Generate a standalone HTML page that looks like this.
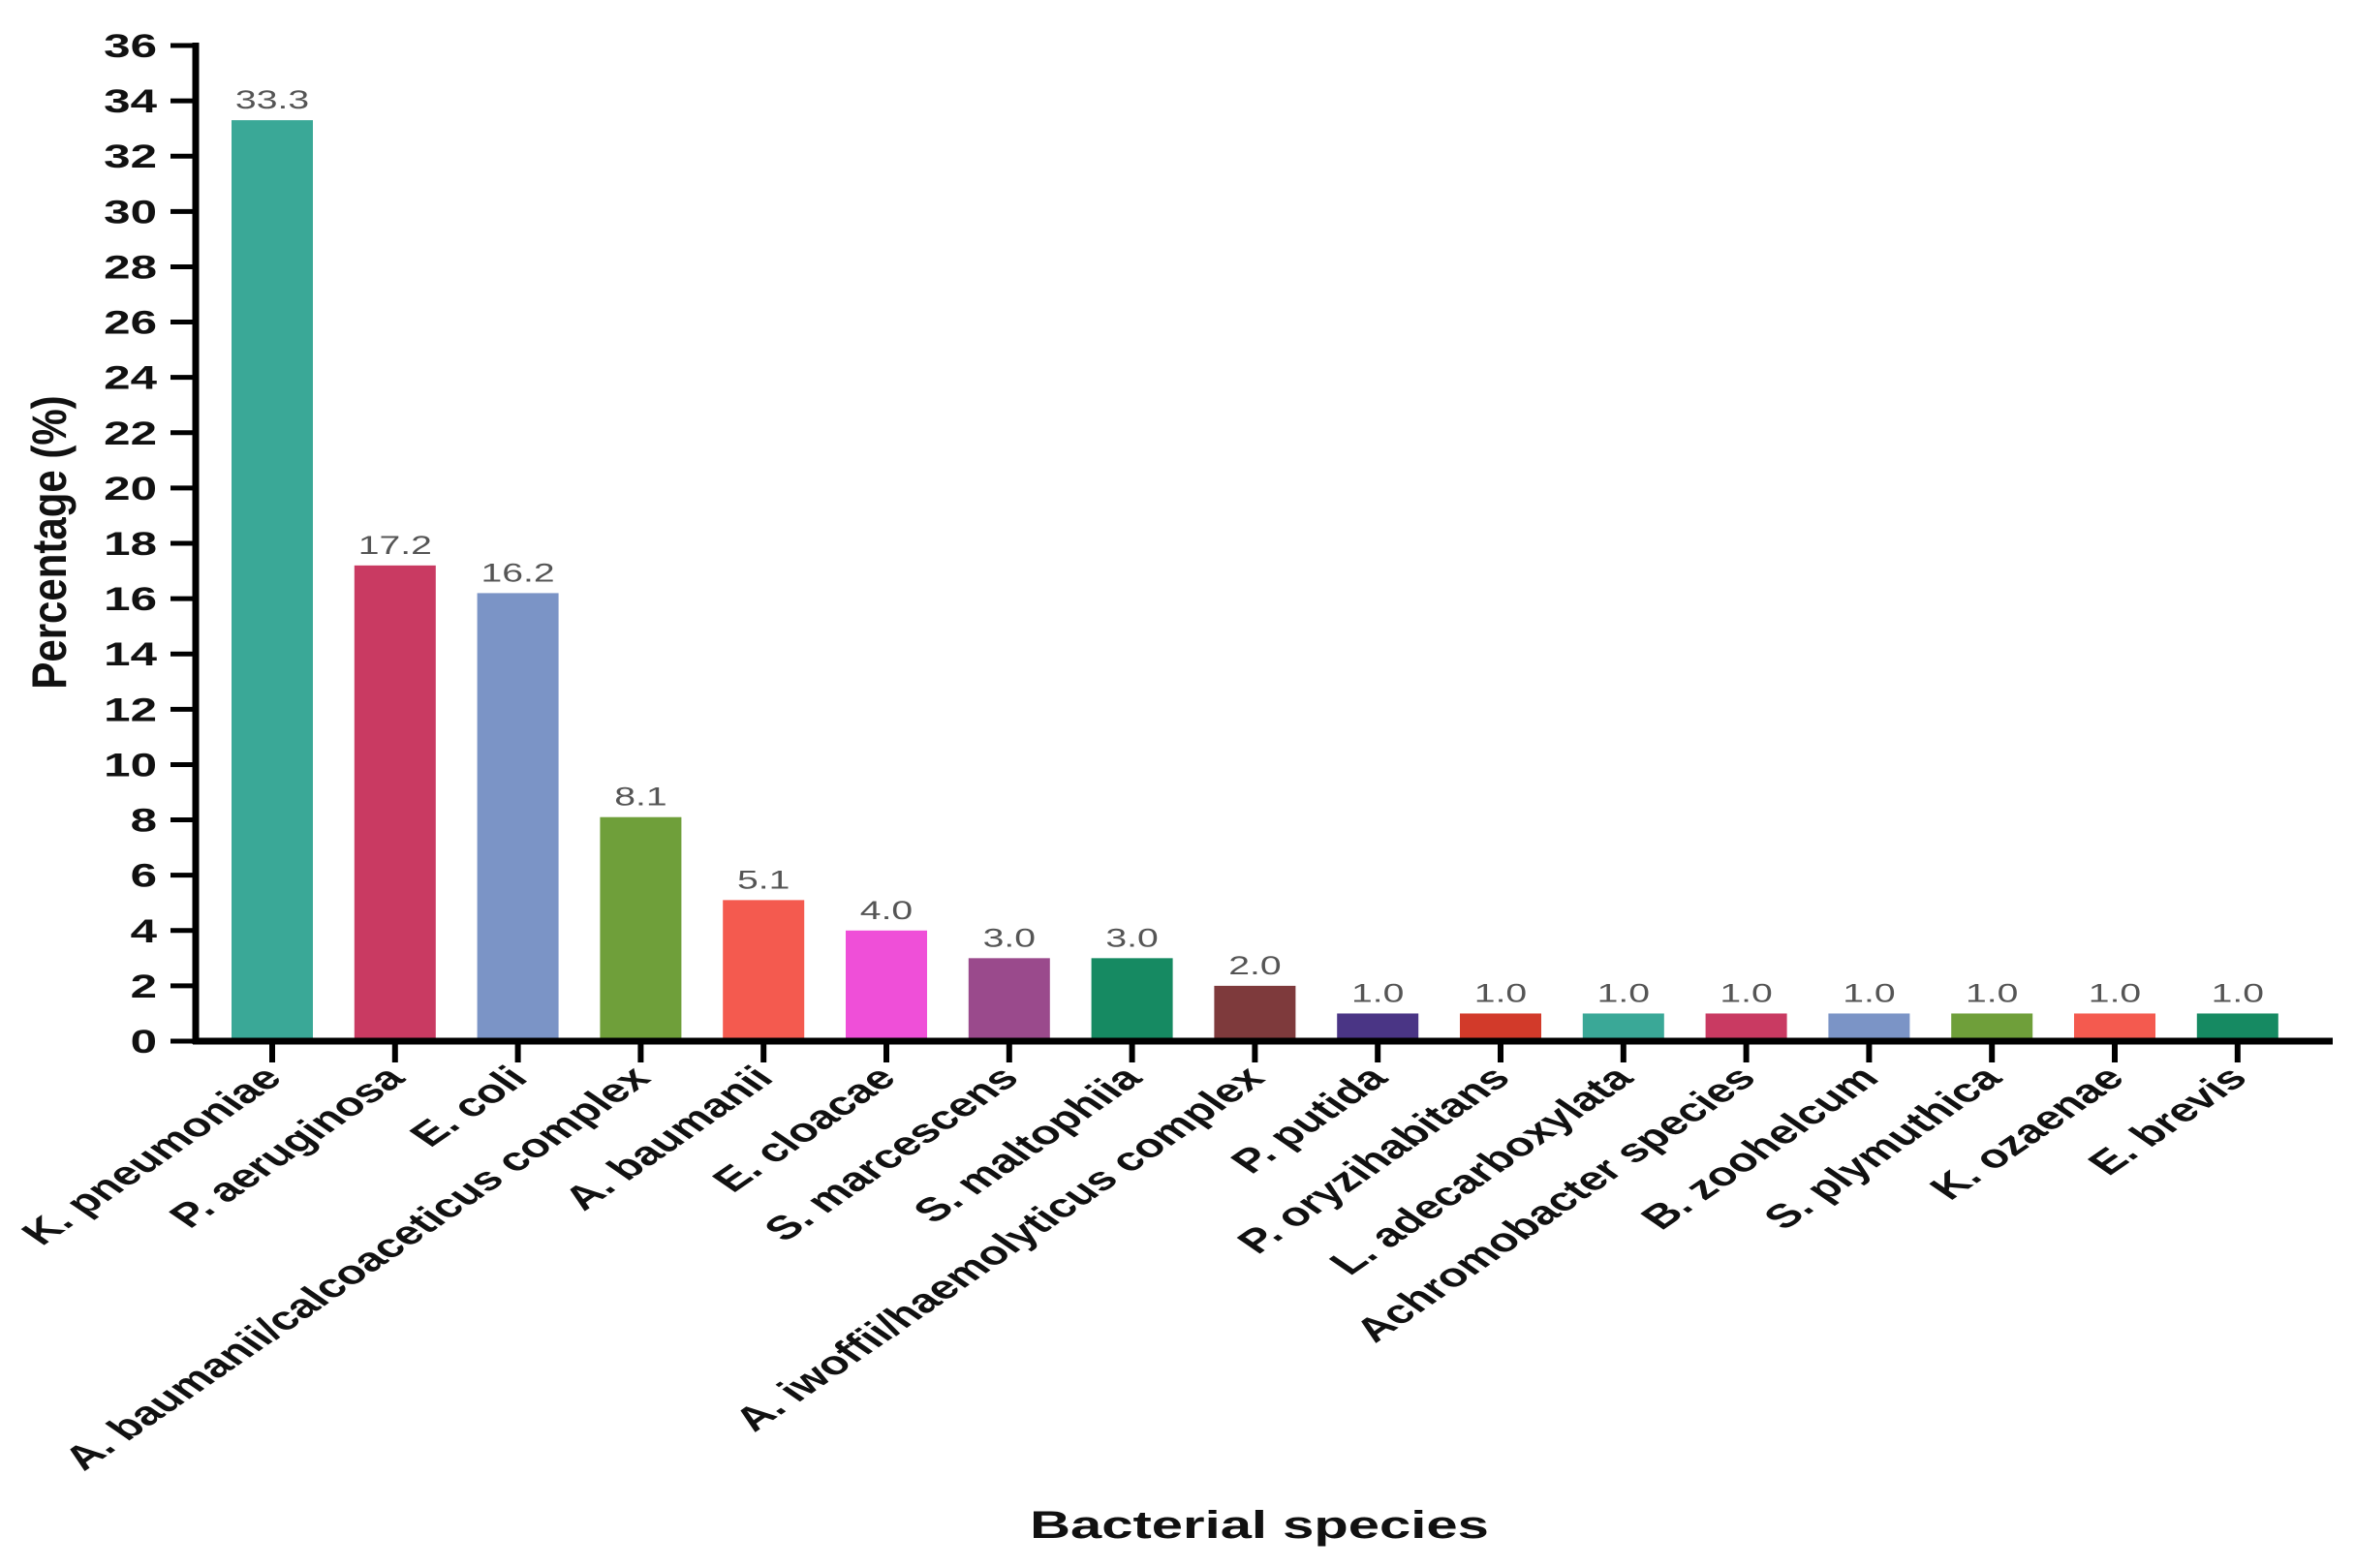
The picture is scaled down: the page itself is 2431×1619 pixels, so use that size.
<!DOCTYPE html>
<html><head><meta charset="utf-8"><style>
html,body{margin:0;padding:0;background:#fff;}
svg{display:block;font-family:"Liberation Sans",Arial,sans-serif;}
</style></head><body>
<svg id="chart" width="2431" height="1619" viewBox="0 0 2431 1619" xmlns="http://www.w3.org/2000/svg"></svg>
<script>
const categories=["K. pneumoniae","P. aeruginosa","E. coli","A. baumanii/calcoaceticus complex","A. baumanii","E. cloacae","S. marcescens","S. maltophiia","A. iwoffii/haemolyticus complex","P. putida","P. oryzihabitans","L. adecarboxylata","Achromobacter species","B. zoohelcum","S. plymuthica","K. ozaenae","E. brevis"];
const values=[33.3,17.2,16.2,8.1,5.1,4.0,3.0,3.0,2.0,1.0,1.0,1.0,1.0,1.0,1.0,1.0,1.0];
const valueLabels=["33.3","17.2","16.2","8.1","5.1","4.0","3.0","3.0","2.0","1.0","1.0","1.0","1.0","1.0","1.0","1.0","1.0"];
const colors=["#3aa897","#c93a62","#7b94c6","#6f9f3a","#f45a4f","#ef4fd8","#9a4a8c","#168a62","#7e3a3c","#4a3585","#d23a2a","#3aa897","#c93a62","#7b94c6","#6f9f3a","#f45a4f","#168a62"];
const yTicks=[0,2,4,6,8,10,12,14,16,18,20,22,24,26,28,30,32,34,36];

const NS="http://www.w3.org/2000/svg";
const svg=document.getElementById('chart');
const x0=202,xEnd=2408,yBase=1075,yTop=47,yMax=36;
const firstC=281,step=126.8,barW=84,SX=1.45;
const y=v=>yBase-(v/yMax)*(yBase-yTop);
const xc=i=>firstC+i*step;
function mk(tag,attrs){const e=document.createElementNS(NS,tag);for(const k in attrs)e.setAttribute(k,attrs[k]);svg.appendChild(e);return e;}

values.forEach((v,i)=>{
  const r=mk('rect',{x:xc(i)-barW/2,y:y(v),width:barW,height:yBase-y(v),fill:colors[i]});
  
  
  const t=mk('text',{x:0,y:0,'text-anchor':'middle','font-size':27,fill:'#555',transform:`translate(${xc(i)},${y(v)-12}) scale(${SX},1)`});
  t.textContent=valueLabels[i];
  
  
  const tk=mk('line',{x1:xc(i),x2:xc(i),y1:yBase,y2:yBase+22,stroke:'#000','stroke-width':6});
  
  
  const cl=mk('text',{x:0,y:0,'text-anchor':'end','font-size':34,'font-weight':'bold',fill:'#111',transform:`translate(${xc(i)+12},${yBase+40}) scale(${SX},1) rotate(-45)`});
  cl.textContent=categories[i];
  
  
});
yTicks.forEach(t=>{
  const l=mk('line',{x1:x0-26,x2:x0,y1:y(t),y2:y(t),stroke:'#000','stroke-width':5});
  
  
  const tx=mk('text',{x:0,y:0,'text-anchor':'end','font-size':34,'font-weight':'bold',fill:'#111',transform:`translate(${x0-40},${y(t)+12}) scale(${SX},1)`});
  tx.textContent=t;
  
  
});
const ya=mk('line',{x1:x0,x2:x0,y1:yTop-3,y2:yBase+3,stroke:'#000','stroke-width':7});


const xa=mk('line',{x1:x0-3,x2:xEnd,y1:yBase,y2:yBase,stroke:'#000','stroke-width':7});


const yt=mk('text',{x:0,y:0,'text-anchor':'middle','font-size':50,'font-weight':'bold',fill:'#111',transform:'translate(68,560) rotate(-90) scale(0.84,1)'});
yt.textContent='Percentage (%)';


const xt=mk('text',{x:0,y:0,'text-anchor':'middle','font-size':40,'font-weight':'bold',fill:'#111',transform:`translate(1300,1588) scale(${SX},1)`});
xt.textContent='Bacterial species';


</script>
</body></html>
